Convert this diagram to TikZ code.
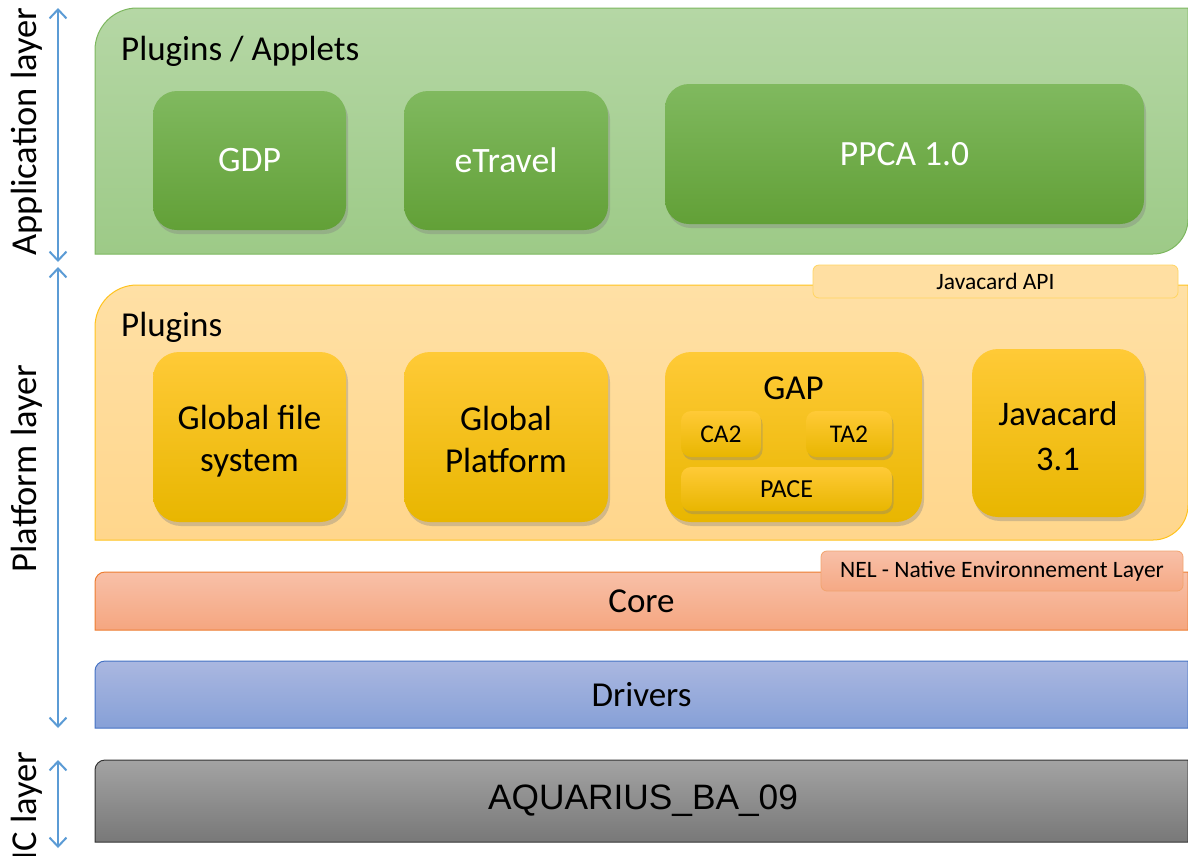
\documentclass[tikz,border=0pt]{standalone}
\usepackage{fontspec}
\setmainfont{Carlito}
\newfontfamily\icfont{Liberation Sans}
\usetikzlibrary{arrows.meta,positioning,calc,shadows}

\definecolor{apptop}{RGB}{181,215,165}
\definecolor{appbot}{RGB}{157,202,135}
\definecolor{appline}{RGB}{125,183,95}
\definecolor{gboxtop}{RGB}{128,185,95}
\definecolor{gboxbot}{RGB}{98,160,55}
\definecolor{plattop}{RGB}{255,224,165}
\definecolor{platbot}{RGB}{255,214,140}
\definecolor{platline}{RGB}{255,195,30}
\definecolor{yboxtop}{RGB}{255,202,55}
\definecolor{yboxmid}{RGB}{255,194,0}
\definecolor{yboxbot}{RGB}{232,182,0}
\definecolor{coretop}{RGB}{248,192,168}
\definecolor{corebot}{RGB}{245,166,128}
\definecolor{coreline}{RGB}{237,125,49}
\definecolor{drvtop}{RGB}{170,183,224}
\definecolor{drvbot}{RGB}{134,160,215}
\definecolor{drvline}{RGB}{68,114,196}
\definecolor{ictop}{RGB}{163,163,163}
\definecolor{icbot}{RGB}{120,120,120}
\definecolor{layerblue}{RGB}{91,155,213}

\begin{document}
\begin{tikzpicture}[
  x=1pt, y=-1pt,
  apppanel/.style={top color=apptop, bottom color=appbot, draw=appline, line width=1pt},
  platpanel/.style={top color=plattop, bottom color=platbot, draw=platline, line width=1pt},
  coreband/.style={top color=coretop, bottom color=corebot, draw=coreline, line width=1pt},
  drvband/.style={top color=drvtop, bottom color=drvbot, draw=drvline, line width=1pt},
  icband/.style={top color=ictop, bottom color=icbot, draw=black!80, line width=1pt},
  title/.style={anchor=base west, inner sep=0pt, font=\fontsize{35}{42}\selectfont},
  gbox/.style={rounded corners=24pt, top color=gboxtop, bottom color=gboxbot,
    text=white, font=\fontsize{35.7}{42}\selectfont, minimum height=139pt,
    drop shadow={shadow xshift=2pt, shadow yshift=-4pt, opacity=0.35}},
  ybox/.style={rounded corners=26pt, top color=yboxtop, middle color=yboxmid, bottom color=yboxbot,
    align=center, font=\fontsize{35}{42}\selectfont, minimum height=170pt,
    drop shadow={shadow xshift=2pt, shadow yshift=-4pt, opacity=0.35}},
  smallbox/.style={rounded corners=10pt, top color=yboxtop, middle color=yboxmid, bottom color=yboxbot,
    font=\fontsize{25.5}{30}\selectfont, minimum height=46pt,
    drop shadow={shadow xshift=1.5pt, shadow yshift=-3pt, opacity=0.35}},
  tagbox/.style={rounded corners=6pt, line width=0.8pt, font=\fontsize{23.5}{28}\selectfont, inner sep=0pt},
  bandtext/.style={font=\fontsize{35}{42}\selectfont},
  layerlbl/.style={rotate=90, font=\fontsize{36.5}{44}\selectfont},
  layerarr/.style={{Straight Barb[length=9pt,width=17pt]}-{Straight Barb[length=9pt,width=17pt]},
    draw=layerblue, line width=2pt}
]
\useasboundingbox (0,0) rectangle (1188,855);

\path[apppanel] (95,254) -- (95,50) arc[start angle=180, end angle=270, radius=42]
  -- (1188,8) -- (1188,219) arc[start angle=0, end angle=90, radius=35] -- cycle;
\node[title] (apptitle) at (121,60) {Plugins / Applets};

\node[gbox, minimum width=193pt] (gdp) at (249.5,160.5) {GDP};
\node[gbox, minimum width=204pt] (etravel) at (506,160.5) {eTravel};
\node[gbox, minimum width=479pt, minimum height=140pt, font=\fontsize{35.5}{42}\selectfont] (ppca) at (904.5,154) {PPCA 1.0};

\path[platpanel] (95,540) -- (95,327) arc[start angle=180, end angle=270, radius=42]
  -- (1188,285) -- (1188,505) arc[start angle=0, end angle=90, radius=35] -- cycle;
\node[tagbox, fill=plattop!90!platbot, draw=platline!70, minimum width=365pt, minimum height=33pt]
  (jcapi) at (995.5,281.5) {Javacard API};
\node[title] (plattitle) at (121,336) {Plugins};

\node[ybox, minimum width=193pt] (gfs) at (249.5,437) {};
\node[font=\fontsize{35}{42}\selectfont, align=center] (gfstext) at (249.5,441) {Global file\\system};
\node[ybox, minimum width=204pt] (gp) at (506,437) {};
\node[font=\fontsize{35}{42}\selectfont, align=center] (gptext) at (506,439) {Global\\Platform};
\node[ybox, minimum width=257pt] (gap) at (793.5,437) {};
\node[font=\fontsize{35}{42}\selectfont] (gaptitle) at (793.5,388) {GAP};
\node[smallbox, minimum width=80pt] (ca2) at (721,434) {CA2};
\node[smallbox, minimum width=86pt] (ta2) at (849,434) {TA2};
\node[smallbox, minimum width=211pt, minimum height=44pt, font=\fontsize{26}{30}\selectfont] (pace) at (786.5,489) {PACE};
\node[ybox, minimum width=172pt, minimum height=168pt] (jc) at (1058,433) {};
\node[font=\fontsize{34.5}{45}\selectfont, align=center] (jctext) at (1058,436) {Javacard\\3.1};

\path[coreband] (95,630) -- (95,582) arc[start angle=180, end angle=270, radius=10]
  -- (1188,572) -- (1188,630) -- cycle;
\node[bandtext] (core) at (641.5,601) {Core};
\node[tagbox, top color=coretop, bottom color=corebot!90!coretop, draw=coreline!70,
  minimum width=362pt, minimum height=40pt] (nel) at (1002,571) {NEL - Native Environnement Layer};

\path[drvband] (95,728) -- (95,671) arc[start angle=180, end angle=270, radius=10]
  -- (1188,661) -- (1188,728) -- cycle;
\node[bandtext] (drivers) at (641.5,695) {Drivers};

\path[icband] (95,842) -- (95,770) arc[start angle=180, end angle=270, radius=10]
  -- (1188,760) -- (1188,842) -- cycle;
\node[font=\icfont\fontsize{35.3}{42}\selectfont] (chip) at (643,801) {AQUARIUS\_BA\_09};

\coordinate (apptop) at (58,8);
\coordinate (appbot) at (58,262);
\coordinate (plattop) at (58,267);
\coordinate (platbot) at (58,728);
\coordinate (ictop) at (58,760);
\coordinate (icbot) at (58,848);
\draw[layerarr] (apptop) -- (appbot);
\draw[layerarr] (plattop) -- (platbot);
\draw[layerarr] (ictop) -- (icbot);

\node[layerlbl] (applbl) at (27,131.5) {Application layer};
\node[layerlbl] (platlbl) at (27,468.5) {Platform layer};
\node[layerlbl] (iclbl) at (27,806) {IC layer};

\end{tikzpicture}
\end{document}
